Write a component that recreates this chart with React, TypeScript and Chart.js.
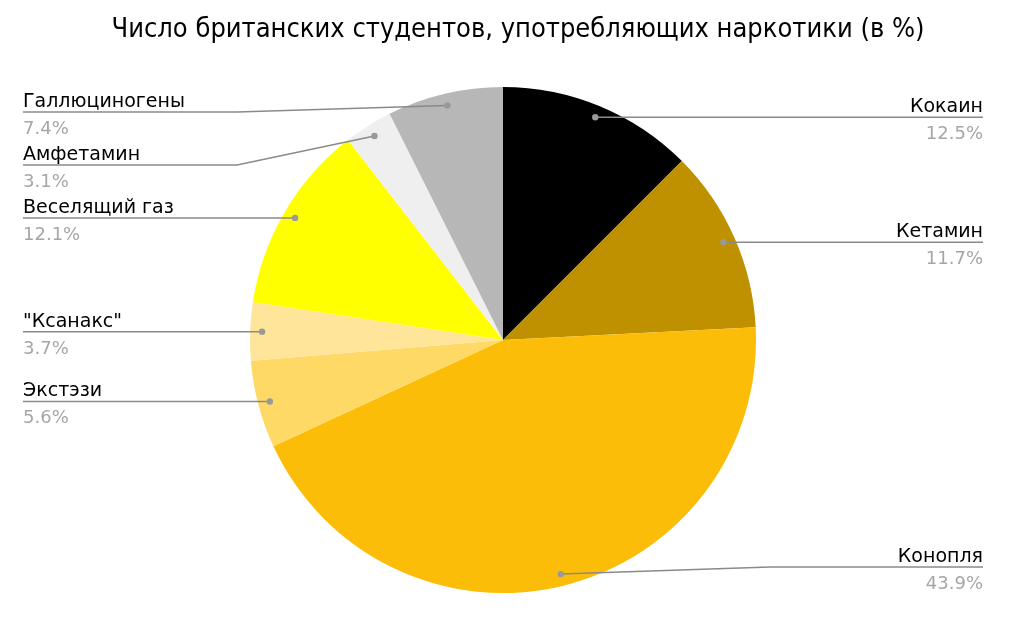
import React, { useEffect, useRef } from "react";
import { Chart, registerables } from "chart.js";

Chart.register(...registerables);

const TITLE = "Число британских студентов, употребляющих наркотики (в %)";
const labels = ["Кокаин", "Кетамин", "Конопля", "Экстэзи", "\"Ксанакс\"", "Веселящий газ", "Амфетамин", "Галлюциногены"];
const values = [12.5, 11.7, 43.9, 5.6, 3.7, 12.1, 3.1, 7.4];
const colors = ["#000000", "#bf9000", "#fcbd08", "#ffd966", "#ffe599", "#ffff00", "#efefef", "#b7b7b7"];

const labelPlugin = {
  id: "sideLabels",
  afterDraw(chart: any) {
    const ctx = chart.ctx as CanvasRenderingContext2D;
    const meta = chart.getDatasetMeta(0);
    ctx.save();
    // title
    ctx.fillStyle = "#000";
    ctx.font = "27px 'DejaVu Sans Condensed', 'DejaVu Sans', sans-serif";
    ctx.textAlign = "center";
    ctx.textBaseline = "alphabetic";
    ctx.fillText(TITLE, 518, 37);

    const items: any[] = [];
    meta.data.forEach((arc: any, i: number) => {
      const p = arc.getProps(["x", "y", "startAngle", "endAngle", "outerRadius"], true);
      const mid = (p.startAngle + p.endAngle) / 2;
      const r = p.outerRadius * 0.953;
      const dx = p.x + Math.cos(mid) * r;
      const dy = p.y + Math.sin(mid) * r;
      const right = Math.cos(mid) > 0;
      items.push({ i, dx, dy, right, cx: p.x, R: p.outerRadius, ly: dy });
    });
    const minY = 112, maxY = 567, gap = 53;
    for (const side of [true, false]) {
      const arr = items.filter((it) => it.right === side).sort((a, b) => a.dy - b.dy);
      let prev = -Infinity;
      for (const it of arr) {
        it.ly = Math.max(it.dy, minY, prev + gap);
        prev = it.ly;
      }
      let next = Infinity;
      for (let k = arr.length - 1; k >= 0; k--) {
        const it = arr[k];
        it.ly = Math.min(it.ly, maxY, next - gap);
        next = it.ly;
      }
    }
    for (const it of items) {
      const elbow = it.right ? it.cx + it.R + 14 : it.cx - it.R - 13;
      const endX = it.right ? 983 : 23;
      ctx.strokeStyle = "#8a8a8a";
      ctx.lineWidth = 1.5;
      ctx.beginPath();
      ctx.moveTo(it.dx, it.dy);
      if (Math.abs(it.ly - it.dy) > 0.5) ctx.lineTo(elbow, it.ly);
      ctx.lineTo(endX, it.ly);
      ctx.stroke();
      ctx.fillStyle = "#999999";
      ctx.beginPath();
      ctx.arc(it.dx, it.dy, 3.2, 0, Math.PI * 2);
      ctx.fill();
      ctx.textAlign = it.right ? "right" : "left";
      ctx.font = "19px 'DejaVu Sans', sans-serif";
      ctx.fillStyle = "#000";
      ctx.textBaseline = "alphabetic";
      ctx.fillText(labels[it.i], endX, it.ly - 5);
      ctx.font = "18px 'DejaVu Sans', sans-serif";
      ctx.fillStyle = "#a6a6a6";
      ctx.fillText(values[it.i].toFixed(1) + "%", endX, it.ly + 22);
    }
    ctx.restore();
  },
};

export default function App() {
  const ref = useRef<HTMLCanvasElement | null>(null);
  useEffect(() => {
    document.body.style.margin = "0";
    const chart = new Chart(ref.current!, {
      type: "pie",
      data: {
        labels,
        datasets: [{ data: values, backgroundColor: colors, borderWidth: 0 }],
      },
      options: {
        responsive: false,
        animation: false,
        layout: { padding: { left: 250, right: 253, top: 87, bottom: 28 } },
        plugins: { legend: { display: false }, tooltip: { enabled: false }, title: { display: false } },
      },
      plugins: [labelPlugin],
    });
    return () => chart.destroy();
  }, []);
  return <canvas ref={ref} width={1009} height={621} style={{ display: "block" }} />;
}
